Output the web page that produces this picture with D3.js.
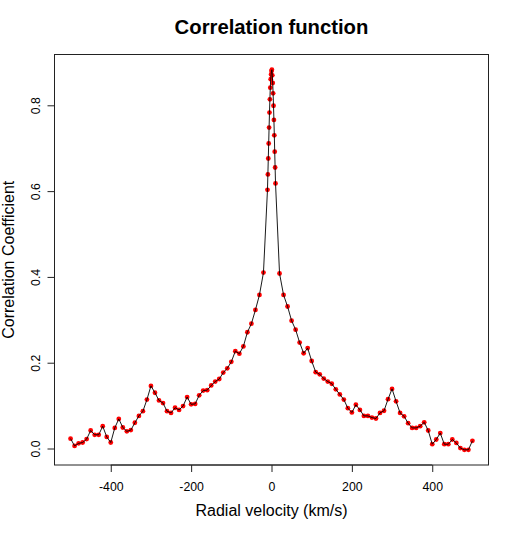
<!DOCTYPE html>
<html>
<head>
<meta charset="utf-8">
<script src="https://cdn.jsdelivr.net/npm/d3@7"></script>
<style>
  body { margin: 0; background: #fff; }
  svg { font-family: "Liberation Sans", Arial, Helvetica, sans-serif; }
</style>
</head>
<body>
<svg></svg>
<script>
const width = 517, height = 533;

// Radial velocities (km/s): coarse 10 km/s grid, fine 1 km/s grid near the peak
const outerLeft = d3.range(-500, -10, 10);
const fineCenter = d3.range(-10, 11, 1);
const outerRight = d3.range(20, 501, 10);
const velocity = outerLeft.concat(fineCenter, outerRight);

// Correlation coefficients
const corrLeft = [
  0.023, 0.006, 0.012, 0.014, 0.022, 0.042, 0.032, 0.032, 0.052, 0.027,
  0.014, 0.048, 0.069, 0.049, 0.040, 0.043, 0.060, 0.076, 0.087, 0.114,
  0.146, 0.130, 0.112, 0.106, 0.087, 0.083, 0.095, 0.090, 0.099, 0.120,
  0.103, 0.104, 0.124, 0.135, 0.136, 0.147, 0.156, 0.162, 0.177, 0.187,
  0.202, 0.227, 0.221, 0.238, 0.271, 0.291, 0.323, 0.358, 0.410
];
const corrCenter = [
  0.603, 0.639, 0.676, 0.711, 0.748, 0.783, 0.814, 0.841, 0.861, 0.872,
  0.880, 0.883, 0.870, 0.852, 0.828, 0.799, 0.766, 0.730, 0.692, 0.655,
  0.618
];
const corrRight = [
  0.408, 0.358, 0.331, 0.298, 0.277, 0.247, 0.222, 0.234, 0.204, 0.178,
  0.173, 0.163, 0.156, 0.151, 0.138, 0.126, 0.114, 0.094, 0.084, 0.102,
  0.090, 0.076, 0.076, 0.072, 0.070, 0.083, 0.088, 0.115, 0.139, 0.110,
  0.083, 0.075, 0.059, 0.048, 0.048, 0.052, 0.061, 0.042, 0.010, 0.021,
  0.036, 0.010, 0.010, 0.021, 0.013, 0.001, -0.003, -0.003, 0.018
];
const correlation = corrLeft.concat(corrCenter, corrRight);

const xTicks = [-400, -200, 0, 200, 400];
const yTicks = [0.0, 0.2, 0.4, 0.6, 0.8];

const data = velocity.map((v, i) => ({ v: v, c: correlation[i] }));

const margin = { top: 54.5, right: 28.5, bottom: 68, left: 54.5 };
const svg = d3.select("svg").attr("width", width).attr("height", height);

// R style axis ranges: data range padded by 4% on both sides
function padded(ext) {
  const r = ext[1] - ext[0];
  return [ext[0] - 0.04 * r, ext[1] + 0.04 * r];
}

const x = d3.scaleLinear()
  .domain(padded(d3.extent(velocity)))
  .range([margin.left, width - margin.right]);
const y = d3.scaleLinear()
  .domain(padded(d3.extent(correlation)))
  .range([height - margin.bottom, margin.top]);

// Points first, line over them
svg.append("g")
  .selectAll("circle")
  .data(data)
  .enter().append("circle")
  .attr("cx", d => x(d.v))
  .attr("cy", d => y(d.c))
  .attr("r", 2.4)
  .attr("fill", "#ff0000");

const line = d3.line().x(d => x(d.v)).y(d => y(d.c));
svg.append("path")
  .datum(data)
  .attr("d", line)
  .attr("fill", "none")
  .attr("stroke", "#000")
  .attr("stroke-width", 0.9);

// Box
svg.append("rect")
  .attr("x", margin.left)
  .attr("y", margin.top)
  .attr("width", width - margin.left - margin.right)
  .attr("height", height - margin.top - margin.bottom)
  .attr("fill", "none")
  .attr("stroke", "#222")
  .attr("stroke-width", 1);

// X axis
const xAxis = svg.append("g")
  .attr("transform", `translate(0,${height - margin.bottom})`)
  .call(d3.axisBottom(x).tickValues(xTicks).tickSize(7).tickSizeOuter(0).tickPadding(10)
    .tickFormat(d => d3.format("")(d).replace("−", "-")));
xAxis.select(".domain")
  .attr("d", `M${x(xTicks[0])},0H${x(xTicks[xTicks.length - 1])}`)
  .attr("stroke", "#222");
xAxis.selectAll("text").attr("font-size", 12.3).attr("fill", "#000")
  .style("font-family", "'Liberation Sans', Arial, sans-serif");
xAxis.selectAll(".tick line").attr("stroke", "#222");

// Y axis, labels rotated like R's default
const yAxis = svg.append("g")
  .attr("transform", `translate(${margin.left},0)`)
  .call(d3.axisLeft(y).tickValues(yTicks).tickSize(7).tickSizeOuter(0)
    .tickFormat(d3.format(".1f")));
yAxis.select(".domain")
  .attr("d", `M0,${y(yTicks[0])}V${y(yTicks[yTicks.length - 1])}`)
  .attr("stroke", "#222");
yAxis.selectAll(".tick line").attr("stroke", "#222");
yAxis.selectAll("text")
  .attr("x", null).attr("dy", null)
  .attr("text-anchor", "middle")
  .attr("font-size", 12.3).attr("fill", "#000")
  .style("font-family", "'Liberation Sans', Arial, sans-serif")
  .attr("transform", "translate(-15,0) rotate(-90)");

// Titles
svg.append("text")
  .attr("x", (margin.left + width - margin.right) / 2)
  .attr("y", 34)
  .attr("text-anchor", "middle")
  .attr("font-size", 20.3)
  .attr("font-weight", "bold")
  .text("Correlation function");

svg.append("text")
  .attr("x", (margin.left + width - margin.right) / 2)
  .attr("y", 516)
  .attr("text-anchor", "middle")
  .attr("font-size", 16)
  .text("Radial velocity (km/s)");

svg.append("text")
  .attr("transform", `translate(14,${(margin.top + height - margin.bottom) / 2}) rotate(-90)`)
  .attr("text-anchor", "middle")
  .attr("font-size", 16)
  .text("Correlation Coefficient");
</script>
</body>
</html>
